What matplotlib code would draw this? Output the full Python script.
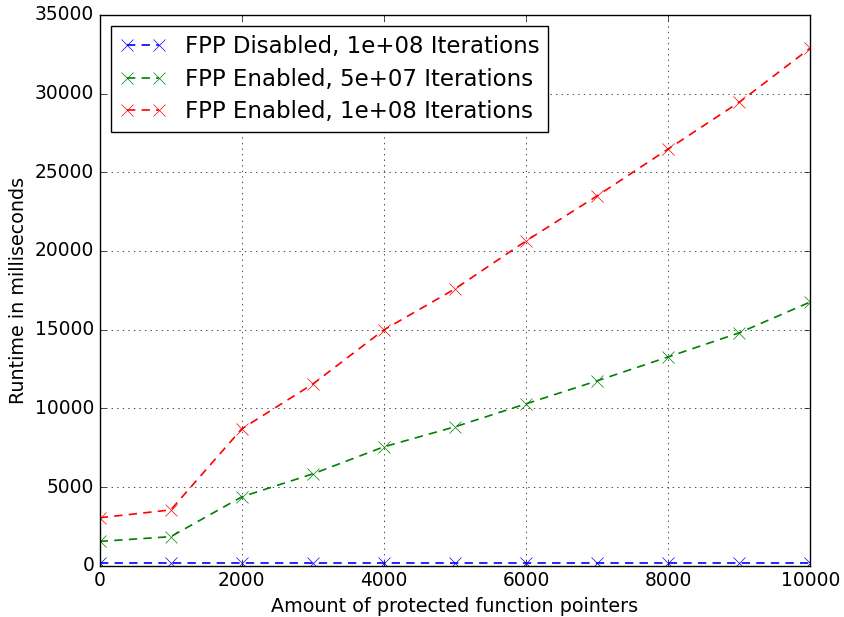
import matplotlib
matplotlib.use('Agg')
import matplotlib.pyplot as pyplot

pointers = [0, 1000, 2000, 3000, 4000, 5000, 6000, 7000, 8000, 9000, 10000]
disabled_1e8 = [170, 170, 170, 170, 170, 170, 170, 170, 170, 170, 170]
enabled_5e7 = [1550, 1850, 4380, 5840, 7560, 8830, 10290, 11750, 13270, 14800, 16760]
enabled_1e8 = [3050, 3550, 8700, 11550, 14990, 17590, 20640, 23500, 26480, 29450, 32890]

labels = ['FPP Disabled, 1e+08 Iterations',
          'FPP Enabled, 5e+07 Iterations',
          'FPP Enabled, 1e+08 Iterations']

pyplot.style.use('classic')

fig = pyplot.figure(figsize=(8.45, 6.17), dpi=100)
ax = fig.add_axes([0.118, 0.083, 0.841, 0.893])

style = dict(linestyle='--', marker='x', markersize=9, linewidth=1.2, dashes=(6, 4.5))
ax.plot(pointers, disabled_1e8, color='#0000ff', label=labels[0], **style)
ax.plot(pointers, enabled_5e7, color='#008000', label=labels[1], **style)
ax.plot(pointers, enabled_1e8, color='#ff0000', label=labels[2], **style)

ax.set_xlim(0, 10000)
ax.set_ylim(0, 35000)
ax.set_xlabel('Amount of protected function pointers', fontsize=13.8)
ax.set_ylabel('Runtime in milliseconds', fontsize=13.8)
ax.tick_params(labelsize=13.4)
ax.grid(True)
ax.legend(loc='upper left', fontsize=16.5, labelspacing=0.4)

fig.savefig('out.png', dpi=100)
